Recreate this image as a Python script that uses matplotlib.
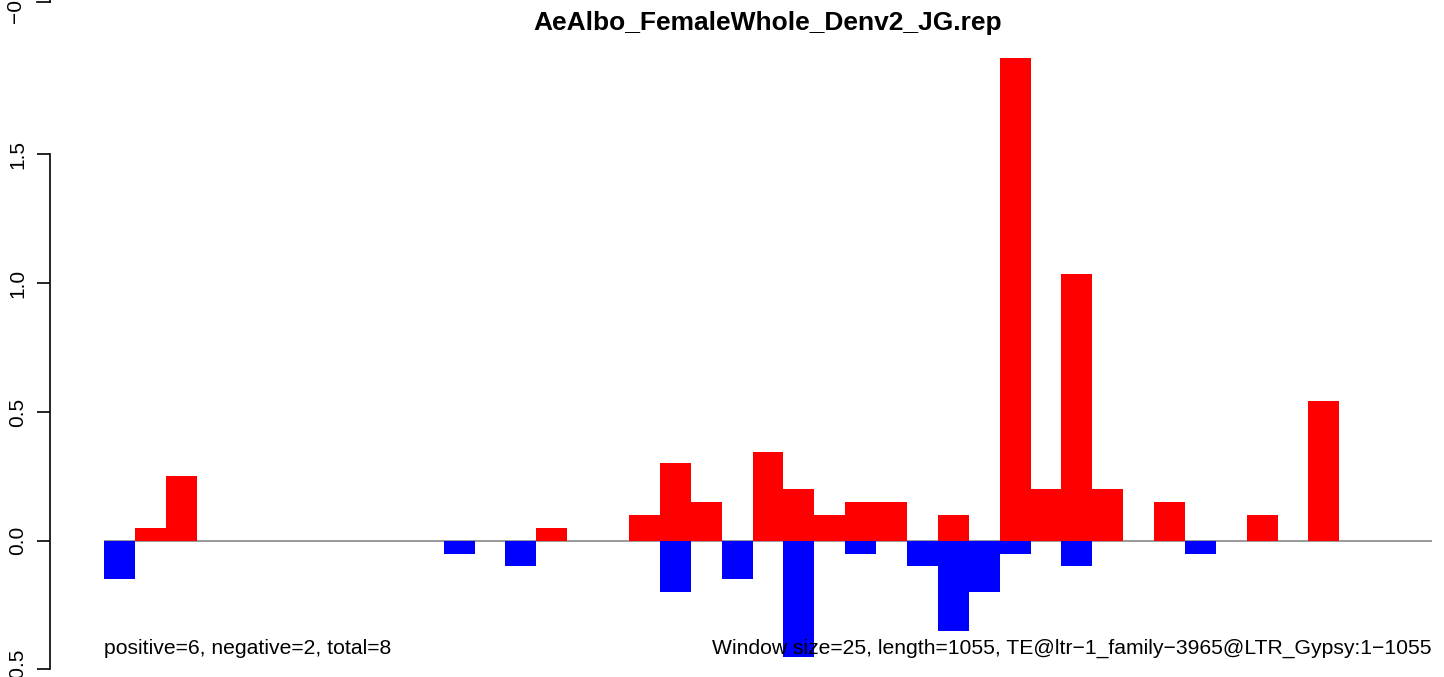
import numpy as np
import matplotlib
matplotlib.use("Agg")
import matplotlib.pyplot as plt
from matplotlib.lines import Line2D

plt.rcParams['font.family'] = ['Liberation Sans', 'DejaVu Sans']

# window-level signal, 43 windows of 25 bp over 1055 bp
n_windows = 43
pos_bins = [1, 2, 14, 17, 18, 19, 21, 22, 23, 24, 25, 27, 29, 30, 31, 32, 34, 37, 39]
pos_vals = [0.05, 0.25, 0.05, 0.10, 0.30, 0.15, 0.345, 0.20, 0.10, 0.15, 0.15, 0.10,
            1.876, 0.20, 1.036, 0.20, 0.15, 0.10, 0.542]
neg_bins = [0, 11, 13, 18, 20, 22, 24, 26, 27, 28, 29, 31, 35]
neg_vals = [-0.15, -0.05, -0.10, -0.20, -0.15, -0.45, -0.05, -0.10, -0.35, -0.20,
            -0.05, -0.10, -0.05]

title = "AeAlbo_FemaleWhole_Denv2_JG.rep"
left_note = "positive=6, negative=2, total=8"
right_note = "Window size=25, length=1055, TE@ltr\u22121_family\u22123965@LTR_Gypsy:1\u22121055"

pos = np.zeros(n_windows)
neg = np.zeros(n_windows)
pos[pos_bins] = pos_vals
neg[neg_bins] = neg_vals

W, H = 1444, 677
fig = plt.figure(figsize=(W / 100, H / 100), dpi=100)
# plot region: x 104..1432 px, full height
ax = fig.add_axes([104 / W, 0, (1432 - 104) / W, 1])

x = np.arange(n_windows)
ax.axhline(0, color='#999999', lw=1.4, zorder=1)
ax.bar(x, pos, width=1, align='edge', color='#FF0000', lw=0, zorder=2)
ax.bar(x, neg, width=1, align='edge', color='#0000FF', lw=0, zorder=2)

ax.set_xlim(0, n_windows)
ax.set_ylim(-(H - 540.7) / 257.5, 540.7 / 257.5)

for s in ['top', 'right', 'bottom']:
    ax.spines[s].set_visible(False)
ax.spines['left'].set_position(('outward', 54 * 0.72))
ax.spines['left'].set_bounds(-0.5, 1.5)
ax.spines['left'].set_linewidth(1.2)
ax.set_xticks([])
ax.set_yticks([-0.5, 0.0, 0.5, 1.0, 1.5])
ax.set_yticklabels(['\u22120.5', '0.0', '0.5', '1.0', '1.5'], rotation=90, va='center')
ax.tick_params(axis='y', length=9.4, width=1.2, labelsize=15, pad=7)

ax.text(n_windows / 2, (540.7 - 23) / 257.5, title, ha='center', va='center',
        fontsize=19, fontweight='bold')
ax.text(0, -0.417, left_note, ha='left', va='center', fontsize=15.2, zorder=3)
ax.text(n_windows, -0.417, right_note, ha='right', va='center', fontsize=15.2, zorder=3)

# remnant of the neighbouring panel's axis at the very top
fig.add_artist(Line2D([37 / W, 50 / W], [1 - 2 / H, 1 - 2 / H], color='black', lw=1.2))
fig.add_artist(Line2D([50 / W, 50 / W], [1 - 2 / H, 1], color='black', lw=1.2))
fig.text(15 / W, 1 - 2 / H, '\u22120.5', rotation=90, ha='center', va='center', fontsize=15)

fig.savefig('out.png', dpi=100)
